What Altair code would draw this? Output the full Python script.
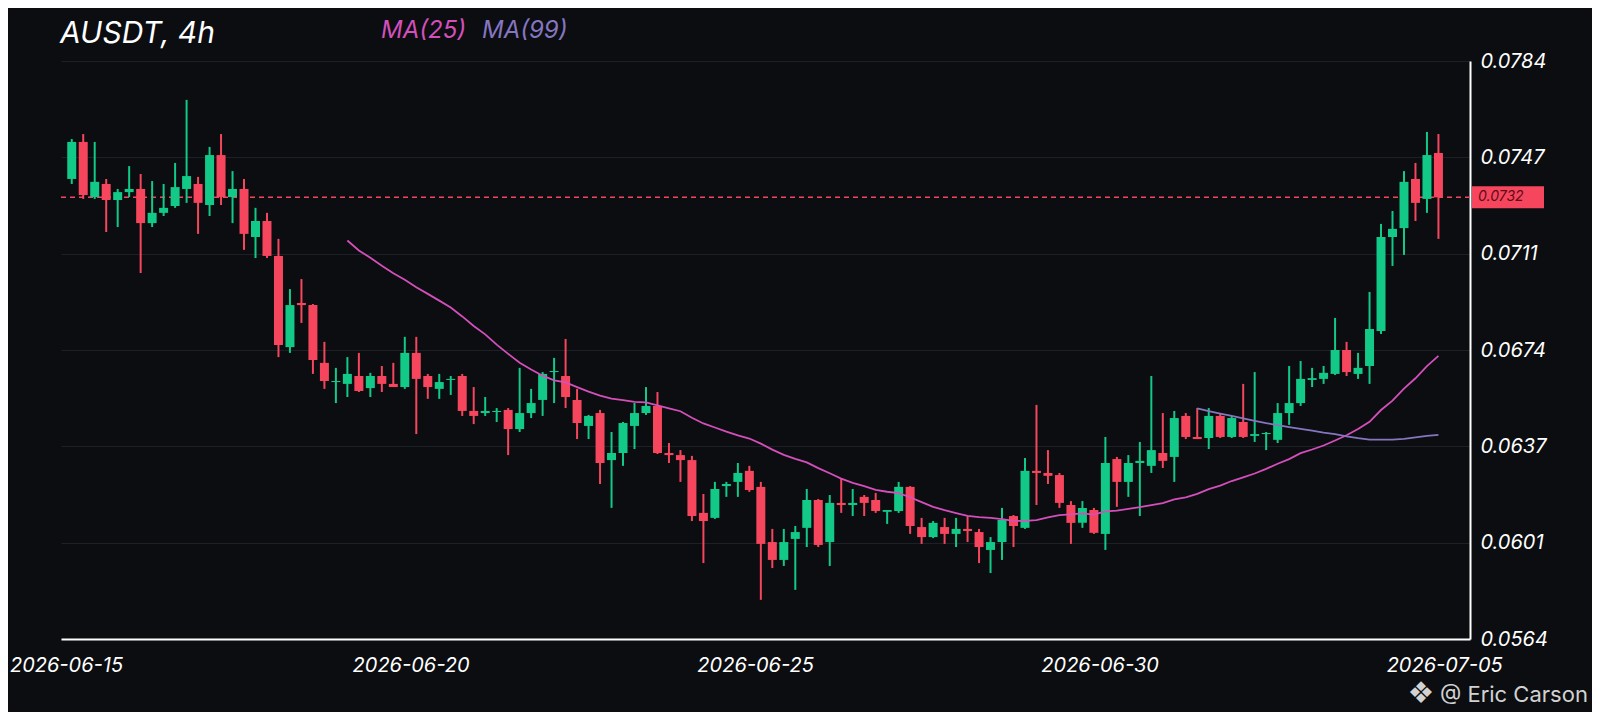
import altair as alt
import pandas as pd

title_text = "AUSDT, 4h"
ma_labels = ["MA(25)", "MA(99)"]
watermark = "@ Eric Carson"

opens = [0.07391, 0.07532, 0.07322, 0.07372, 0.07311, 0.07341, 0.07353, 0.07223, 0.07262, 0.07288,
         0.07353, 0.07372, 0.07292, 0.07482, 0.07322, 0.07353, 0.07170, 0.07231, 0.07098, 0.06751,
         0.06919, 0.06911, 0.06691, 0.06618, 0.06611, 0.06641, 0.06595, 0.06641, 0.06611, 0.06599,
         0.06729, 0.06641, 0.06592, 0.06626, 0.06641, 0.06508, 0.06500, 0.06504, 0.06512, 0.06439,
         0.06500, 0.06550, 0.06656, 0.06641, 0.06550, 0.06451, 0.06500, 0.06321, 0.06348, 0.06451,
         0.06500, 0.06527, 0.06348, 0.06340, 0.06321, 0.06120, 0.06101, 0.06222, 0.06238, 0.06280,
         0.06219, 0.06009, 0.05941, 0.06021, 0.06063, 0.06169, 0.06009, 0.06158, 0.06150, 0.06181,
         0.06169, 0.06124, 0.06127, 0.06219, 0.06066, 0.06028, 0.06066, 0.06040, 0.06059, 0.06047,
         0.05979, 0.06009, 0.06108, 0.06063, 0.06280, 0.06272, 0.06264, 0.06150, 0.06082, 0.06131,
         0.06040, 0.06325, 0.06238, 0.06310, 0.06299, 0.06348, 0.06333, 0.06489, 0.06409, 0.06405,
         0.06489, 0.06409, 0.06466, 0.06413, 0.06420, 0.06398, 0.06500, 0.06538, 0.06626, 0.06630,
         0.06649, 0.06740, 0.06649, 0.06679, 0.06812, 0.07170, 0.07204, 0.07391, 0.07315, 0.07490]
highs = [0.07543, 0.07562, 0.07532, 0.07391, 0.07353, 0.07440, 0.07410, 0.07383, 0.07372, 0.07452,
         0.07692, 0.07399, 0.07513, 0.07562, 0.07421, 0.07391, 0.07281, 0.07262, 0.07163, 0.06972,
         0.07010, 0.06915, 0.06771, 0.06672, 0.06713, 0.06729, 0.06653, 0.06679, 0.06691, 0.06790,
         0.06790, 0.06649, 0.06649, 0.06641, 0.06649, 0.06599, 0.06561, 0.06519, 0.06519, 0.06672,
         0.06592, 0.06656, 0.06710, 0.06782, 0.06592, 0.06493, 0.06512, 0.06428, 0.06466, 0.06538,
         0.06599, 0.06580, 0.06386, 0.06359, 0.06337, 0.06192, 0.06238, 0.06238, 0.06310, 0.06299,
         0.06238, 0.06059, 0.06059, 0.06070, 0.06211, 0.06173, 0.06188, 0.06249, 0.06211, 0.06188,
         0.06196, 0.06131, 0.06238, 0.06222, 0.06101, 0.06089, 0.06101, 0.06101, 0.06108, 0.06059,
         0.06028, 0.06139, 0.06112, 0.06329, 0.06531, 0.06359, 0.06272, 0.06165, 0.06165, 0.06139,
         0.06409, 0.06333, 0.06340, 0.06390, 0.06641, 0.06500, 0.06508, 0.06500, 0.06519, 0.06519,
         0.06496, 0.06489, 0.06611, 0.06656, 0.06428, 0.06538, 0.06679, 0.06698, 0.06672, 0.06679,
         0.06862, 0.06771, 0.06729, 0.06961, 0.07220, 0.07269, 0.07421, 0.07452, 0.07570, 0.07562]
lows = [0.07372, 0.07315, 0.07315, 0.07189, 0.07208, 0.07322, 0.07033, 0.07208, 0.07250, 0.07281,
        0.07300, 0.07182, 0.07250, 0.07292, 0.07223, 0.07121, 0.07090, 0.07090, 0.06713, 0.06729,
        0.06843, 0.06649, 0.06592, 0.06538, 0.06561, 0.06580, 0.06561, 0.06580, 0.06599, 0.06592,
        0.06420, 0.06554, 0.06554, 0.06569, 0.06489, 0.06458, 0.06489, 0.06466, 0.06340, 0.06428,
        0.06481, 0.06489, 0.06538, 0.06519, 0.06401, 0.06401, 0.06230, 0.06139, 0.06299, 0.06363,
        0.06493, 0.06344, 0.06310, 0.06238, 0.06089, 0.05929, 0.06097, 0.06181, 0.06181, 0.06200,
        0.05789, 0.05910, 0.05918, 0.05827, 0.05990, 0.05990, 0.05918, 0.06120, 0.06108, 0.06108,
        0.06120, 0.06078, 0.06120, 0.06040, 0.06002, 0.06024, 0.06002, 0.05990, 0.06009, 0.05929,
        0.05891, 0.05941, 0.05990, 0.06059, 0.06150, 0.06230, 0.06139, 0.06002, 0.06063, 0.06040,
        0.05979, 0.06143, 0.06181, 0.06108, 0.06272, 0.06291, 0.06238, 0.06401, 0.06401, 0.06363,
        0.06405, 0.06405, 0.06405, 0.06390, 0.06359, 0.06386, 0.06455, 0.06527, 0.06599, 0.06611,
        0.06645, 0.06641, 0.06630, 0.06611, 0.06801, 0.07060, 0.07102, 0.07231, 0.07262, 0.07163]
closes = [0.07532, 0.07330, 0.07380, 0.07311, 0.07341, 0.07353, 0.07223, 0.07262, 0.07281, 0.07360,
          0.07402, 0.07300, 0.07482, 0.07322, 0.07353, 0.07182, 0.07231, 0.07098, 0.06759, 0.06911,
          0.06911, 0.06702, 0.06622, 0.06622, 0.06649, 0.06584, 0.06641, 0.06611, 0.06599, 0.06729,
          0.06630, 0.06599, 0.06618, 0.06630, 0.06508, 0.06489, 0.06508, 0.06508, 0.06439, 0.06500,
          0.06538, 0.06649, 0.06660, 0.06561, 0.06462, 0.06489, 0.06310, 0.06348, 0.06462, 0.06500,
          0.06527, 0.06348, 0.06340, 0.06321, 0.06108, 0.06089, 0.06211, 0.06230, 0.06272, 0.06207,
          0.06002, 0.05941, 0.06009, 0.06047, 0.06169, 0.05998, 0.06158, 0.06150, 0.06158, 0.06158,
          0.06127, 0.06131, 0.06219, 0.06070, 0.06028, 0.06082, 0.06040, 0.06059, 0.06051, 0.05990,
          0.06009, 0.06093, 0.06070, 0.06280, 0.06272, 0.06261, 0.06158, 0.06082, 0.06139, 0.06044,
          0.06310, 0.06238, 0.06310, 0.06318, 0.06359, 0.06318, 0.06481, 0.06409, 0.06401, 0.06489,
          0.06409, 0.06481, 0.06409, 0.06420, 0.06424, 0.06500, 0.06538, 0.06630, 0.06633, 0.06653,
          0.06740, 0.06656, 0.06672, 0.06820, 0.07170, 0.07201, 0.07380, 0.07300, 0.07482, 0.07321]

y_ticks = [0.0564, 0.06007, 0.06373, 0.0674, 0.07107, 0.07473, 0.0784]
x_tick_days = [(6, 15), (6, 20), (6, 25), (6, 30), (7, 5)]

n = len(closes)
times = pd.date_range("2026-06-15 02:00", periods=n, freq="4h")
df = pd.DataFrame({
    "i": list(range(n)),
    "t": times.strftime("%Y-%m-%dT%H:%M:%S"),
    "open": opens, "high": highs, "low": lows, "close": closes,
})

GREEN = "#12c987"
RED = "#f6465d"
MA25_C = "#d44fbb"
MA99_C = "#8576c0"
BG = "#0b0d10"

W, H = 1409, 578

xscale = alt.Scale(domain=[alt.DateTime(year=2026, month=6, date=15),
                           alt.DateTime(year=2026, month=7, date=5, hours=7, minutes=15)])
xaxis = alt.Axis(values=[alt.DateTime(year=2026, month=m, date=d) for m, d in x_tick_days],
                 format="%Y-%m-%d", title=None, labelColor="#ffffff", labelFontSize=20,
                 labelFont="Inter", labelFontStyle="italic", labelPadding=16, ticks=False,
                 domainColor="#ffffff", domainWidth=2, grid=False, labelFlush=False,
                 labelOverlap=False)
yscale = alt.Scale(domain=[0.0564, 0.0784], zero=False, nice=False)
yaxis = alt.Axis(orient="right", values=y_ticks, format=".4f", title=None,
                 labelColor="#ffffff", labelFontSize=20, labelFont="Inter",
                 labelFontStyle="italic", labelPadding=10, ticks=False,
                 domainColor="#ffffff", domainWidth=2, grid=True, gridColor="#1d2026",
                 gridWidth=1, labelOverlap=False)

X = alt.X("t:T", scale=xscale, axis=xaxis)
color = alt.condition("datum.close >= datum.open", alt.value(GREEN), alt.value(RED))

base = alt.Chart(df)

last = base.transform_filter(f"datum.i == {n - 1}")

price_line = last.mark_rule(color=RED, strokeDash=[5, 4], strokeWidth=1.5).encode(
    y=alt.Y("close:Q", scale=yscale, axis=yaxis),
    x=alt.value(0), x2=alt.value(W),
)

wicks = base.mark_rule(strokeWidth=2).encode(
    x=X,
    y=alt.Y("low:Q", scale=yscale, axis=yaxis),
    y2="high:Q",
    color=color,
)
bodies = base.mark_bar(size=9).encode(
    x=X,
    y=alt.Y("open:Q", scale=yscale, axis=yaxis),
    y2="close:Q",
    color=color,
)

ma25 = base.transform_window(
    ma="mean(close)", cnt="count()", frame=[-24, 0], sort=[alt.SortField("i")]
).transform_filter("datum.cnt >= 25").mark_line(color=MA25_C, strokeWidth=1.8).encode(
    x=X, y=alt.Y("ma:Q", scale=yscale, axis=yaxis)
)
ma99 = base.transform_window(
    ma="mean(close)", cnt="count()", frame=[-98, 0], sort=[alt.SortField("i")]
).transform_filter("datum.cnt >= 99").mark_line(color=MA99_C, strokeWidth=1.8).encode(
    x=X, y=alt.Y("ma:Q", scale=yscale, axis=yaxis)
)

price_box = last.mark_rule(color=RED, strokeWidth=22, strokeCap="butt").encode(
    y=alt.Y("close:Q", scale=yscale, axis=yaxis),
    x=alt.value(W + 2), x2=alt.value(W + 74),
)
price_text = last.mark_text(align="left", baseline="middle", fontSize=14,
                            fontStyle="italic", font="Inter", color="#5e0b18").encode(
    y=alt.Y("close:Q", scale=yscale, axis=yaxis),
    x=alt.value(W + 8),
    text=alt.Text("close:Q", format=".4f"),
)

ann = alt.Chart(pd.DataFrame({"title": [title_text], "ma25": [ma_labels[0]],
                              "ma99": [ma_labels[1]], "wm": [watermark], "logo": ["❖"]}))
title_mark = ann.mark_text(align="left", baseline="alphabetic", fontSize=30, font="Inter",
                           fontStyle="italic", color="#ffffff").encode(
    text="title:N", x=alt.value(-1), y=alt.value(-18))
ma25_lbl = ann.mark_text(align="left", baseline="alphabetic", fontSize=24, font="Inter",
                         fontStyle="italic", color=MA25_C).encode(
    text="ma25:N", x=alt.value(320), y=alt.value(-23))
ma99_lbl = ann.mark_text(align="left", baseline="alphabetic", fontSize=24, font="Inter",
                         fontStyle="italic", color=MA99_C).encode(
    text="ma99:N", x=alt.value(421), y=alt.value(-23))
wm_text = ann.mark_text(align="left", baseline="alphabetic", fontSize=22, font="Inter",
                        color="#d2d2d2").encode(
    text="wm:N", x=alt.value(1379), y=alt.value(641))
wm_logo = ann.mark_text(align="center", baseline="middle", fontSize=30, font="DejaVu Sans",
                        color="#d2d2d2").encode(
    text="logo:N", x=alt.value(1360), y=alt.value(633))

chart = alt.layer(
    price_line, wicks, bodies, ma25, ma99, price_box, price_text,
    title_mark, ma25_lbl, ma99_lbl, wm_text, wm_logo,
).properties(
    width=W, height=H,
    padding={"left": 53, "top": 53, "right": 122, "bottom": 73},
    autosize=alt.AutoSizeParams(type="none"),
    background=BG,
).configure_view(stroke=None)

chart.save("out.html", embed_options={"renderer": "svg", "actions": False})
